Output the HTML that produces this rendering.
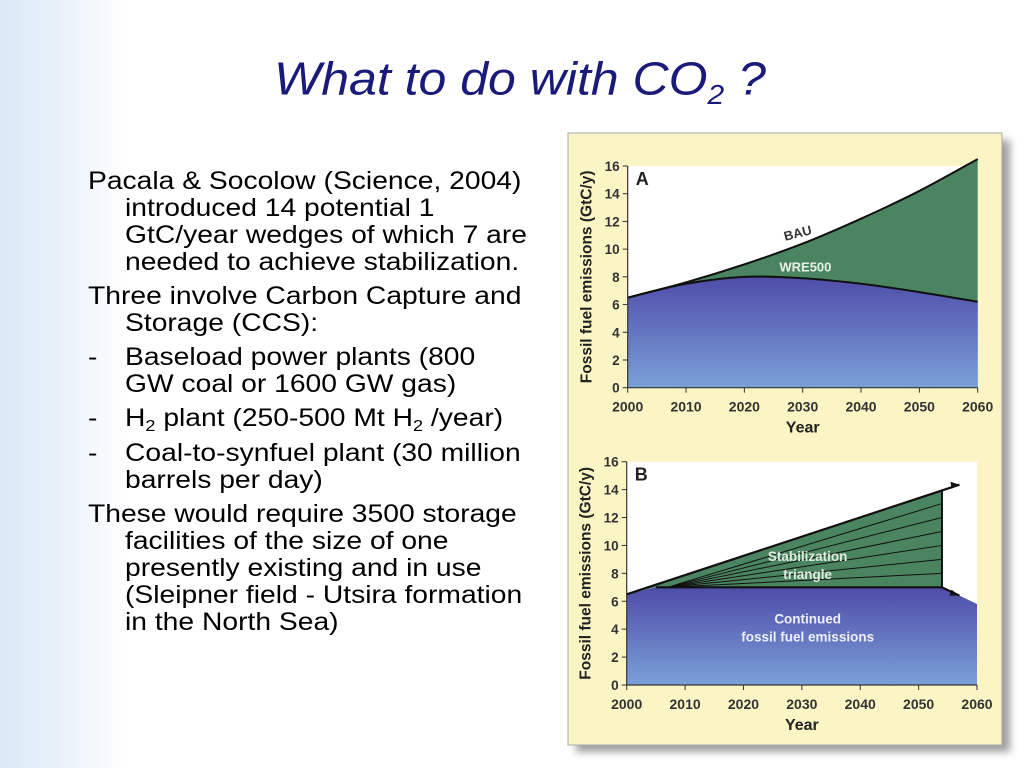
<!DOCTYPE html>
<html><head><meta charset="utf-8">
<style>
html,body{margin:0;padding:0;}
body{width:1024px;height:768px;position:relative;overflow:hidden;background:#fff;font-family:"Liberation Sans",sans-serif;}
.bg{position:absolute;left:0;top:0;width:130px;height:768px;background:linear-gradient(90deg,#dbe9f6 0%,#e6f0f9 40%,#f5f9fd 75%,#fff 100%);}
h1{position:absolute;left:0;width:1040px;top:50px;margin:0;text-align:center;font-weight:normal;font-style:italic;font-size:50px;color:#1a1a7a;transform:scaleY(0.92);}
.ln{position:absolute;font-size:25px;color:#000;white-space:nowrap;line-height:27px;transform:scaleX(1.13);transform-origin:0 0;}
sub{font-size:16px;vertical-align:-5px;line-height:0;}
</style></head><body>
<div class="bg"></div>
<h1>What to do with CO<sub style="font-size:30px;vertical-align:-10px">2</sub> ?</h1>
<div>
<div class="ln" style="left:88px;top:168px">Pacala &amp; Socolow (Science, 2004)</div>
<div class="ln" style="left:125px;top:195px">introduced 14 potential 1</div>
<div class="ln" style="left:125px;top:222px">GtC/year wedges of which 7 are</div>
<div class="ln" style="left:125px;top:249px">needed to achieve stabilization.</div>
<div class="ln" style="left:88px;top:283px">Three involve Carbon Capture and</div>
<div class="ln" style="left:125px;top:310px">Storage (CCS):</div>
<div class="ln" style="left:88px;top:344px">-</div>
<div class="ln" style="left:125px;top:344px">Baseload power plants (800</div>
<div class="ln" style="left:125px;top:371px">GW coal or 1600 GW gas)</div>
<div class="ln" style="left:88px;top:405px">-</div>
<div class="ln" style="left:125px;top:405px">H<sub>2</sub> plant (250-500 Mt H<sub>2</sub> /year)</div>
<div class="ln" style="left:88px;top:440px">-</div>
<div class="ln" style="left:125px;top:440px">Coal-to-synfuel plant (30 million</div>
<div class="ln" style="left:125px;top:467px">barrels per day)</div>
<div class="ln" style="left:88px;top:501px">These would require 3500 storage</div>
<div class="ln" style="left:125px;top:528px">facilities of the size of one</div>
<div class="ln" style="left:125px;top:555px">presently existing and in use</div>
<div class="ln" style="left:125px;top:582px">(Sleipner field - Utsira formation</div>
<div class="ln" style="left:125px;top:609px">in the North Sea)</div>
</div>
<svg id="fig" width="1024" height="768" style="position:absolute;left:0;top:0">
<defs>
<linearGradient id="blue" x1="0" y1="0" x2="0" y2="1"><stop offset="0" stop-color="#4f4ca8"/><stop offset="1" stop-color="#7aa0d8"/></linearGradient>
<filter id="sh" x="-5%" y="-5%" width="115%" height="115%"><feGaussianBlur stdDeviation="4"/></filter>
</defs>
<rect x="576" y="140" width="434" height="612" fill="#777" filter="url(#sh)" opacity="0.7"/>
<rect x="568" y="133" width="434" height="612" fill="#fbf4c4" stroke="#aaa"/>
<g id="gA"></g><g id="gB"></g>
</svg>
<script>
const years=[2000,2010,2020,2030,2040,2050,2060];
const yTicks=[0,2,4,6,8,10,12,14,16];
const bau=[6.5,7.6,8.9,10.4,12.2,14.2,16.5];
const wre=[6.5,7.5,8.0,7.9,7.5,6.9,6.2];
const bStart=[2000,6.5];
const bEnd=[2054,14];
const bFlat=7;
const bFlatStart=2005;
const wedgeEnds=[8,9,10,11,12,13];
const blueEndB=[2060,5.8];
const NS='http://www.w3.org/2000/svg';
function mk(p,t,a){const e=document.createElementNS(NS,t);for(const k in a)e.setAttribute(k,a[k]);p.appendChild(e);return e;}
function axes(g,X,Y,x0,x1,y0,y1,letter){
  const ax=mk(g,'path',{d:`M${x0},${Y(16)}V${y0}H${x1}`,fill:'none',stroke:'#333','stroke-width':1.2});
  
  yTicks.forEach(v=>{mk(g,'line',{x1:x0-5,x2:x0,y1:Y(v),y2:Y(v),stroke:'#333'});
    const t=mk(g,'text',{x:x0-8,y:Y(v)+5,'text-anchor':'end','font-size':13.5,'font-weight':'bold',fill:'#333'});t.textContent=v;
    });
  years.forEach(v=>{mk(g,'line',{x1:X(v),x2:X(v),y1:y0,y2:y0+5,stroke:'#333'});
    const t=mk(g,'text',{x:X(v),y:y0+24,'text-anchor':'middle','font-size':14,'font-weight':'bold',fill:'#333'});t.textContent=v;
    });
  const xt=mk(g,'text',{x:(x0+x1)/2,y:y0+45,'text-anchor':'middle','font-size':16,'font-weight':'bold',fill:'#222'});xt.textContent='Year';
  
  const yt=mk(g,'text',{transform:`translate(${x0-36},${(y0+Y(16))/2}) rotate(-90)`,'text-anchor':'middle','font-size':15.5,'font-weight':'bold',fill:'#222'});yt.textContent='Fossil fuel emissions (GtC/y)';
  
  const l=mk(g,'text',{x:x0+8,y:Y(16)+19,'font-size':18,'font-weight':'bold',fill:'#222'});l.textContent=letter;
  
}
function smooth(pts){let d=`M${pts[0][0]},${pts[0][1]}`;for(let i=0;i<pts.length-1;i++){const p0=pts[Math.max(0,i-1)],p1=pts[i],p2=pts[i+1],p3=pts[Math.min(pts.length-1,i+2)];
 d+=` C${p1[0]+(p2[0]-p0[0])/6},${p1[1]+(p2[1]-p0[1])/6} ${p2[0]-(p3[0]-p1[0])/6},${p2[1]-(p3[1]-p1[1])/6} ${p2[0]},${p2[1]}`;}return d;}
// Chart A
(function(){
 const g=document.getElementById('gA');const x0=627.7,x1=977.7,y0=387.7,yt=166;
 const X=v=>x0+(v-2000)/60*(x1-x0),Y=v=>y0-v/16*(y0-yt);
 mk(g,'rect',{x:x0,y:yt,width:x1-x0,height:y0-yt,fill:'#fff'});
 const pb=years.map((v,i)=>[X(v),Y(bau[i])]),pw=years.map((v,i)=>[X(v),Y(wre[i])]);
 const ga=mk(g,'path',{d:smooth(pb)+`L${x1},${y0}L${x0},${y0}Z`,fill:'#4a8460'});
 const ba=mk(g,'path',{d:smooth(pw)+`L${x1},${y0}L${x0},${y0}Z`,fill:'url(#blue)'});
 const l1=mk(g,'path',{d:smooth(pb),fill:'none',stroke:'#111','stroke-width':2});
 const l2=mk(g,'path',{d:smooth(pw),fill:'none',stroke:'#111','stroke-width':2});
 axes(g,X,Y,x0,x1,y0,yt,'A');
 const t1=mk(g,'text',{x:X(2027),y:Y(10.6),'font-size':13,'font-weight':'bold',fill:'#333',transform:`rotate(-14 ${X(2027)} ${Y(10.6)})`});t1.textContent='BAU';
 
 const t2=mk(g,'text',{x:X(2026),y:Y(8.4),'font-size':13,'font-weight':'bold',fill:'#e8f0e8'});t2.textContent='WRE500';
 
})();
// Chart B
(function(){
 const g=document.getElementById('gB');const x0=626.7,x1=977,y0=685,yt=461.7;
 const X=v=>x0+(v-2000)/60*(x1-x0),Y=v=>y0-v/16*(y0-yt);
 mk(g,'rect',{x:x0,y:yt,width:x1-x0,height:y0-yt,fill:'#fff'});
 const b=mk(g,'path',{d:`M${X(bStart[0])},${Y(bStart[1])}L${X(bFlatStart)},${Y(bFlat)}L${X(bEnd[0])},${Y(bFlat)}L${X(blueEndB[0])},${Y(blueEndB[1])}L${x1},${y0}L${x0},${y0}Z`,fill:'url(#blue)'});
 
 const tr=mk(g,'path',{d:`M${X(bStart[0])},${Y(bStart[1])}L${X(bEnd[0])},${Y(bEnd[1])}L${X(bEnd[0])},${Y(bFlat)}L${X(bFlatStart)},${Y(bFlat)}Z`,fill:'#4a8460'});
 
 wedgeEnds.forEach(v=>{const w=mk(g,'line',{x1:X(2007),y1:Y(bFlat),x2:X(bEnd[0]),y2:Y(v),stroke:'#111','stroke-width':1});});
 mk(g,'path',{d:`M${X(bStart[0])},${Y(bStart[1])}L${X(2057)},${Y(14.35)}`,stroke:'#111','stroke-width':2.2,fill:'none'});
 mk(g,'path',{d:`M${X(2057)},${Y(14.35)} l-9,-3 l1,7z`,fill:'#111'});
 mk(g,'path',{d:`M${X(bFlatStart)},${Y(bFlat)}H${X(bEnd[0])}L${X(2057)},${Y(6.4)}`,stroke:'#111','stroke-width':2.2,fill:'none'});
 mk(g,'path',{d:`M${X(2057)},${Y(6.4)} l-8,-6 l-2,6z`,fill:'#111'});
 mk(g,'line',{x1:X(bEnd[0]),x2:X(bEnd[0]),y1:Y(bEnd[1]),y2:Y(bFlat),stroke:'#111','stroke-width':2});
 axes(g,X,Y,x0,x1,y0,yt,'B');
 [['Stabilization',8.9,'#e0ece0'],['triangle',7.6,'#e0ece0'],['Continued',4.4,'#eef'],['fossil fuel emissions',3.1,'#eef']].forEach(a=>{
  const t=mk(g,'text',{x:X(2031),y:Y(a[1]),'text-anchor':'middle','font-size':13.5,'font-weight':'bold',fill:a[2]});t.textContent=a[0];
  });
})();
</script>
</body></html>
